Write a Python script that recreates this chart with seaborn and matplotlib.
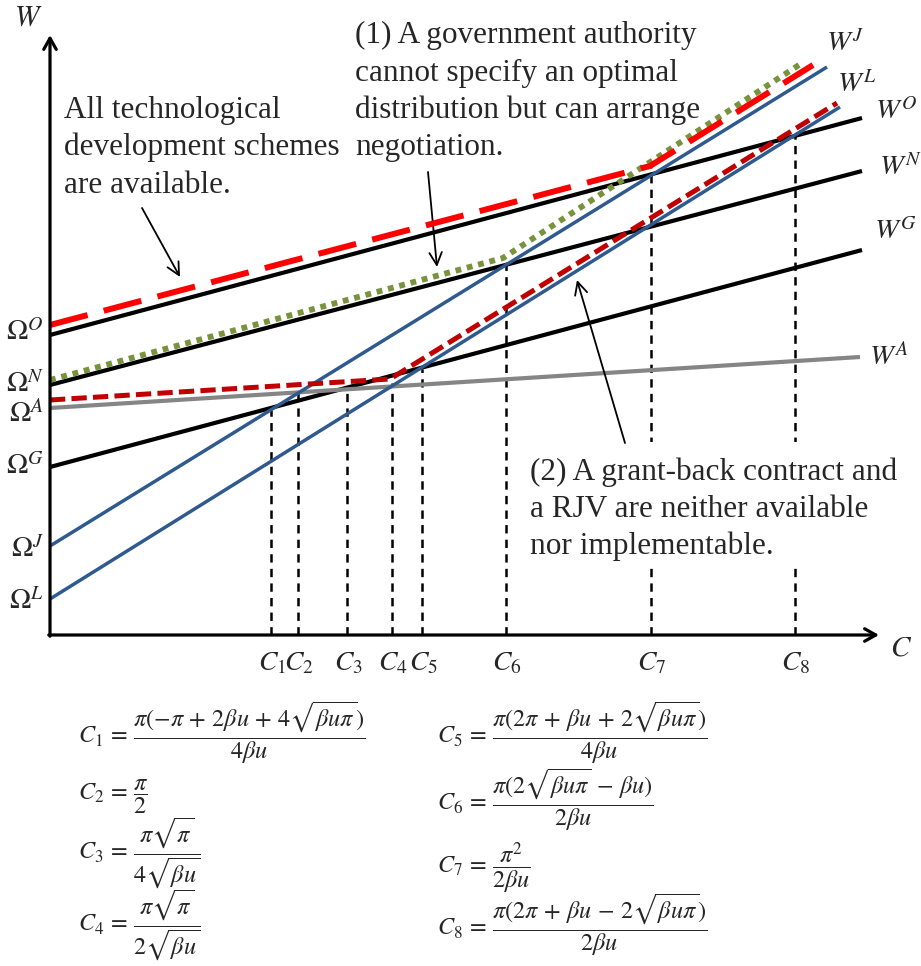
import matplotlib
matplotlib.use("Agg")
import matplotlib.pyplot as plt
from matplotlib.patches import Rectangle
import seaborn as sns

sns.set_theme(style="white")
plt.rcParams["font.family"] = ["Liberation Serif", "DejaVu Serif"]
plt.rcParams["mathtext.fontset"] = "stix"
plt.rcParams["lines.scale_dashes"] = False

# ---------------- data (chart units: C to the right, W upward) ----------------
base_names = ["O", "N", "G", "A", "J", "L"]
base_c0 = [0, 0, 0, 0, 0, 0]
base_c1 = [812, 812, 812, 810, 777, 790]
base_w0 = [300, 250, 168, 227, 89, 36]
base_w1 = [517, 464, 385, 278, 568, 528]

# envelopes (kinked lines)
env_all_c = [0, 600, 763]          # all schemes available (red long dash)
env_all_w = [310, 469, 570]
env_neg_c = [0, 453, 752]          # (1) negotiation (green dotted)
env_neg_w = [255, 377, 572]
env_none_c = [0, 340, 787]         # (2) no grant-back / RJV (dark red dash)
env_none_w = [235, 256, 532]

# thresholds
thr_labels = ["1", "2", "3", "4", "5", "6", "7", "8"]
thr_c = [221, 248, 297, 342, 372, 456, 601, 745]
thr_w = [225, 244, 245, 252, 266, 370, 467, 499]

formulas_left = [
    r"$C_1 \,=\, \dfrac{\pi(-\pi \,+\, 2\beta u \,+\, 4\sqrt{\beta u \pi})}{4\beta u}$",
    r"$C_2 \,=\, \dfrac{\pi}{2}$",
    r"$C_3 \,=\, \dfrac{\pi\sqrt{\pi}}{4\sqrt{\beta u}}$",
    r"$C_4 \,=\, \dfrac{\pi\sqrt{\pi}}{2\sqrt{\beta u}}$",
]
formulas_right = [
    r"$C_5 \,=\, \dfrac{\pi(2\pi \,+\, \beta u \,+\, 2\sqrt{\beta u \pi})}{4\beta u}$",
    r"$C_6 \,=\, \dfrac{\pi(2\sqrt{\beta u \pi} \,-\, \beta u)}{2\beta u}$",
    r"$C_7 \,=\, \dfrac{\pi^2}{2\beta u}$",
    r"$C_8 \,=\, \dfrac{\pi(2\pi \,+\, \beta u \,-\, 2\sqrt{\beta u \pi})}{2\beta u}$",
]

# ---------------- styles ----------------
BLUE = "#2F5A8F"
base_style = {
    "O": dict(color="black", lw=3.0),
    "N": dict(color="black", lw=3.0),
    "G": dict(color="black", lw=3.0),
    "A": dict(color="#858585", lw=3.0),
    "J": dict(color=BLUE, lw=2.5),
    "L": dict(color=BLUE, lw=2.5),
}

fig = plt.figure(figsize=(9.21, 9.66), dpi=100)
ax = fig.add_axes([0, 0, 1, 1])
ax.set_xlim(-50, 871)
ax.set_ylim(-331, 635)
ax.axis("off")


def P(px, py):
    """pixel position -> chart units (for layout of text only)"""
    return px - 50, 635 - py


# threshold dashed verticals
for c, w in zip(thr_c, thr_w):
    sns.lineplot(x=[c, c], y=[0, w], ax=ax, color="black", lw=1.8,
                 estimator=None, sort=False, zorder=1)
    ax.lines[-1].set_dashes([6, 4.5])
    ax.lines[-1].set_dash_capstyle("butt")

# white box behind text (2)
x0, y0 = P(515, 567)
x1, y1 = P(880, 442)
ax.add_patch(Rectangle((x0, y0), x1 - x0, y1 - y0, facecolor="white",
                       edgecolor="none", zorder=2))

# base lines
for n, c0, c1, w0, w1 in zip(base_names, base_c0, base_c1, base_w0, base_w1):
    st = base_style[n]
    sns.lineplot(x=[c0, c1], y=[w0, w1], ax=ax, color=st["color"], lw=st["lw"],
                 estimator=None, sort=False, zorder=3)
    ax.lines[-1].set_solid_capstyle("butt")

# envelopes
sns.lineplot(x=env_none_c, y=env_none_w, ax=ax, color="#C00000", lw=3.6,
             estimator=None, sort=False, zorder=4)
ax.lines[-1].set_dashes([11, 4.5])
ax.lines[-1].set_dash_capstyle("butt")

sns.lineplot(x=env_neg_c, y=env_neg_w, ax=ax, color="#77933C", lw=4.2,
             estimator=None, sort=False, zorder=4)
ax.lines[-1].set_dashes([4.2, 4.2])
ax.lines[-1].set_dash_capstyle("butt")

sns.lineplot(x=env_all_c, y=env_all_w, ax=ax, color="#FF0000", lw=4.3,
             estimator=None, sort=False, zorder=4)
ax.lines[-1].set_dashes([28, 12])
ax.lines[-1].set_dash_capstyle("butt")

# axes arrows
arrow_kw = dict(arrowstyle="->,head_length=0.8,head_width=0.45", lw=2.3,
                color="black", mutation_scale=10, shrinkA=0, shrinkB=0)
ax.annotate("", xy=(0, 600), xytext=(0, -1.2), arrowprops=arrow_kw, zorder=5)
ax.annotate("", xy=(829, 0), xytext=(-1.2, 0), arrowprops=arrow_kw, zorder=5)
ax.text(*P(28, 18), r"$W$", fontsize=21, ha="center", va="center")
ax.text(*P(901, 648), r"$C$", fontsize=21, ha="center", va="center")

# Omega labels
omega_y = {"O": 332, "N": 384, "A": 413, "G": 466, "J": 549, "L": 601}
for n, py in omega_y.items():
    ax.text(*P(44, py), r"$\Omega^{%s}$" % n, fontsize=20.5, ha="right",
            va="center")

# W labels at line ends
wlab = {"J": (845, 43), "L": (857, 84), "O": (896, 111), "N": (901, 167),
        "G": (896, 231), "A": (889, 356)}
for n, (px, py) in wlab.items():
    ax.text(*P(px, py), r"$W^{%s}$" % n, fontsize=20.5, ha="center",
            va="center")

# threshold labels
for lab, c in zip(thr_labels, thr_c):
    ax.text(c + 1, -29, r"$C_{%s}$" % lab, fontsize=20, ha="center",
            va="center")

# annotation texts
TFS = 22.5
for i, s in enumerate(["All technological", "development schemes",
                       "are available."]):
    ax.text(*P(64, 118 + 37.5 * i), s, fontsize=TFS, ha="left", va="baseline")
for i, s in enumerate(["(1) A government authority",
                       "cannot specify an optimal",
                       "distribution but can arrange",
                       "negotiation."]):
    ax.text(*P(355, 43 + 37.5 * i), s, fontsize=TFS, ha="left", va="baseline")
for i, s in enumerate(["(2) A grant-back contract and",
                       "a RJV are neither available",
                       "nor implementable."]):
    ax.text(*P(530, 480 + 37 * i), s, fontsize=TFS, ha="left", va="baseline",
            zorder=6)

ann_kw = dict(arrowstyle="->,head_length=0.9,head_width=0.45", lw=1.3,
              color="black", mutation_scale=10, shrinkA=0, shrinkB=0)
ax.annotate("", xy=P(180, 277), xytext=P(142, 208), arrowprops=ann_kw)
ax.annotate("", xy=P(437, 267), xytext=P(428, 172), arrowprops=ann_kw)
ax.annotate("", xy=P(577, 280), xytext=P(625, 443), arrowprops=ann_kw,
            zorder=6)

# formulas
FFS = 17.5
left_bar = [738, 794, 852, 924]
right_bar = [738, 805, 867, 930]
for f, py in zip(formulas_left, left_bar):
    ax.text(*P(78, py + 6), f, fontsize=FFS, ha="left", va="baseline")
for f, py in zip(formulas_right, right_bar):
    ax.text(*P(437, py + 6), f, fontsize=FFS, ha="left", va="baseline")

fig.savefig("out.png", dpi=100)
